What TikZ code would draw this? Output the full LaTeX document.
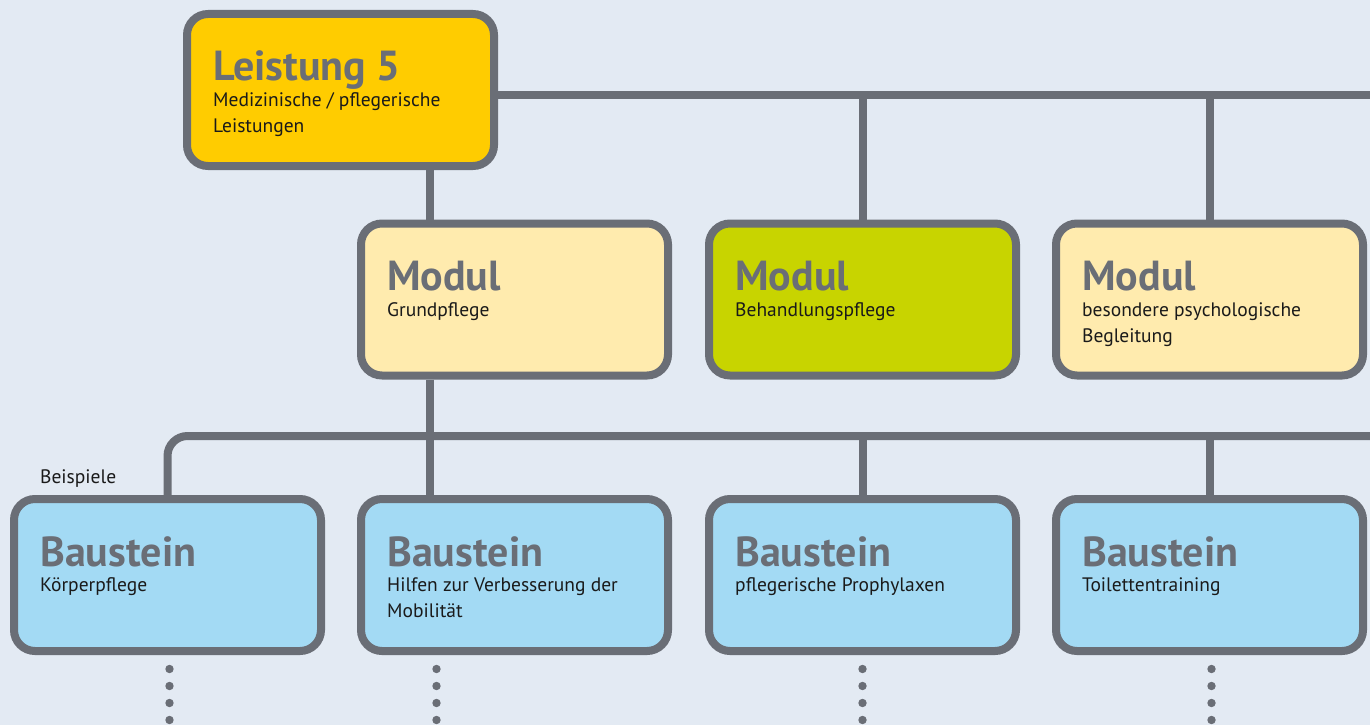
\documentclass[tikz,border=0pt]{standalone}
\usepackage{fontspec}
\setmainfont{PT Sans}
\definecolor{bg}{HTML}{E3EAF3}
\definecolor{frame}{HTML}{6A6E76}
\definecolor{gold}{HTML}{FFCC00}
\definecolor{cream}{HTML}{FFEBAE}
\definecolor{lime}{HTML}{C8D400}
\definecolor{sky}{HTML}{A3DAF4}
\definecolor{ink}{HTML}{1A1A1A}
\begin{document}
\begin{tikzpicture}[x=1pt,y=-1pt,
  box/.style={draw=frame, line width=8pt, rounded corners=21pt, minimum width=307pt, minimum height=152pt, inner sep=0pt},
  ttl/.style={inner sep=0pt, anchor=base west, text=frame, font=\fontsize{42}{42}\selectfont\bfseries},
  body/.style={inner sep=0pt, anchor=base west, text=ink, font=\fontsize{19.5}{26}\selectfont},
  conn/.style={draw=frame, line width=8pt},
  dotfill/.style={fill=frame}]
\useasboundingbox (0,0) rectangle (1370,725);
\fill[bg] (0,0) rectangle (1370,725);

% boxes
\node[box, fill=gold]  (L)  at (340.5,90) {};
\node[box, fill=cream] (M1) at (514.5,299.5) {};
\node[box, fill=lime]  (M2) at (862.5,299.5) {};
\node[box, fill=cream] (M3) at (1209.5,299.5) {};
\node[box, fill=sky]   (B1) at (167.5,575) {};
\node[box, fill=sky]   (B2) at (514.5,575) {};
\node[box, fill=sky]   (B3) at (862.5,575) {};
\node[box, fill=sky]   (B4) at (1209.5,575) {};

% texts
\node[ttl]  (Lt)  at (213,81)    {Leistung 5};
\node[body] (Lb1) at (213,106.5) {Medizinische / pflegerische};
\node[body] (Lb2) at (213,132.5) {Leistungen};

\node[ttl]  (M1t)  at (387,290)   {Modul};
\node[body] (M1b1) at (387,316.5) {Grundpflege};
\node[ttl]  (M2t)  at (735,290)   {Modul};
\node[body] (M2b1) at (735,316.5) {Behandlungspflege};
\node[ttl]  (M3t)  at (1082,290)  {Modul};
\node[body] (M3b1) at (1082,316.5) {besondere psychologische};
\node[body] (M3b2) at (1082,342.5) {Begleitung};

\node[body] (bsp) at (40,483) {Beispiele};

\node[ttl]  (B1t)  at (40,566.5)   {Baustein};
\node[body] (B1b1) at (40,591)     {Körperpflege};
\node[ttl]  (B2t)  at (387,566.5)  {Baustein};
\node[body] (B2b1) at (387,591)    {Hilfen zur Verbesserung der};
\node[body] (B2b2) at (387,617)    {Mobilität};
\node[ttl]  (B3t)  at (735,566.5)  {Baustein};
\node[body] (B3b1) at (735,591)    {pflegerische Prophylaxen};
\node[ttl]  (B4t)  at (1082,566.5) {Baustein};
\node[body] (B4b1) at (1082,591)   {Toilettentraining};

% connectors
\coordinate (busTop) at (1372,95);
\coordinate (busBot) at (1372,436);
\coordinate (j1) at (430,0);
\draw[conn] (L.east |- busTop) -- (busTop);
\draw[conn] (M2.north) -- (M2.north |- busTop);
\draw[conn] (M3.north) -- (M3.north |- busTop);
\draw[conn] (L.south -| j1) -- (M1.north -| j1);
\draw[conn] (M1.south -| j1) -- (B2.north -| j1);
\draw[conn, rounded corners=20pt] (B1.north) |- (busBot);
\draw[conn] (B3.north) -- (B3.north |- busBot);
\draw[conn] (B4.north) -- (B4.north |- busBot);

% dots
\foreach \b/\dx in {B1/2,B2/-78,B3/0,B4/2}{
  \foreach \k in {0,...,3}{
    \fill[dotfill] ([xshift=\dx pt]\b.south) ++(0,{14+17*\k}) circle (4.2pt);
  }
}
\end{tikzpicture}
\end{document}
